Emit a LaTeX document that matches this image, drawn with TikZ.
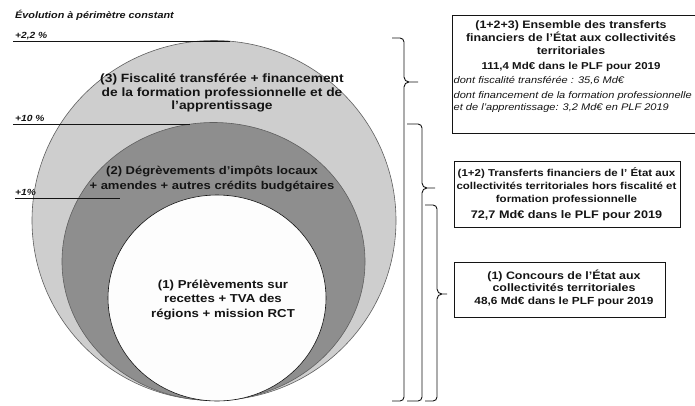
\documentclass[tikz,border=0pt]{standalone}
\usepackage{fontspec}
\setmainfont{Liberation Sans}[FakeStretch=1.15]
\usetikzlibrary{positioning}
\definecolor{ink}{RGB}{20,20,20}
\definecolor{ringout}{RGB}{206,206,206}
\definecolor{ringmid}{RGB}{142,142,142}
\definecolor{ringin}{RGB}{253,253,253}
\definecolor{edgegray}{RGB}{95,95,95}
\tikzset{
  ring/.style={draw=edgegray, line width=0.6pt},
  box/.style={draw=ink, line width=0.7pt, inner sep=0pt},
  head/.style={align=center, font=\fontsize{10.8}{13}\selectfont\bfseries, text=ink,
    inner sep=0pt},
  amt/.style={font=\fontsize{10}{13}\selectfont\bfseries, text=ink, inner sep=0pt},
  note/.style={align=left, font=\fontsize{9.6}{12}\selectfont\itshape, text=ink,
    inner sep=0pt, anchor=west},
  ctext/.style={align=center, font=\fontsize{12}{13.5}\selectfont\bfseries, text=ink,
    inner sep=0pt},
  pct/.style={font=\fontsize{8.9}{10}\selectfont\bfseries\itshape, text=ink,
    inner sep=0pt, anchor=base west},
  lvl/.style={line width=0.7pt, draw=ink},
  brc/.style={line width=0.9pt, draw=ink},
}
% curly bracket: hook x, line x, top y, tip y, tip x, bottom y
\newcommand{\curlybr}[6]{%
  \draw[brc] (#1,#3) -- (#2-4,#3) to[out=0,in=90] (#2,#3+4) -- (#2,#4-5)
    to[out=-90,in=180] (#2+5,#4) -- (#5,#4)
    (#2+5,#4) to[out=180,in=90] (#2,#4+5) -- (#2,#6-4)
    to[out=-90,in=0] (#2-4,#6) -- (#1,#6);}

\begin{document}
\begin{tikzpicture}[x=1pt, y=-1pt]
\useasboundingbox (0,0) rectangle (695,405);

% nested rings
\fill[ringout] (214,220.5) ellipse [x radius=182, y radius=180];
\draw[ring] (214,220.5) ellipse [x radius=182, y radius=180];
\fill[ringmid] (213.5,261.5) ellipse [x radius=151.5, y radius=139];
\draw[ring] (213.5,261.5) ellipse [x radius=151.5, y radius=139];
\fill[ringin] (217,298) ellipse [x radius=109, y radius=103];
\draw[ring, draw=ink] (217,298) ellipse [x radius=109, y radius=103];

% growth levels
\node[pct, font=\fontsize{9.4}{11}\selectfont\bfseries\itshape] (ttl) at (15,18)
  {Évolution à périmètre constant};
\node[pct] (p3) at (15,38) {+2,2 \%};
\node[pct] (p2) at (15,121) {+10 \%};
\node[pct] (p1) at (15,195.5) {+1\%};
\draw[lvl] (13,41) -- (230,41);
\draw[lvl] (13,124) -- (190,124);
\draw[lvl] (15,198) -- (120,198);

\node[ctext] (c3) at (222,93) {(3) Fiscalité transférée + financement\\
  de la formation professionnelle et de\\ l'apprentissage};
\node[ctext, font=\fontsize{11.3}{15}\selectfont\bfseries] (c2) at (212,178.5)
  {(2) Dégrèvements d'impôts locaux\\ + amendes + autres crédits budgétaires};
\node[ctext, font=\fontsize{11.5}{14.5}\selectfont\bfseries] (c1) at (223,299.5)
  {(1) Prélèvements sur\\ recettes + TVA des\\ régions + mission RCT};

% brackets
\curlybr{392}{404}{38}{82}{418}{401}
\curlybr{407}{422}{124}{188}{435}{401}
\curlybr{425}{437}{205}{294}{447}{401}

% boxes
\node[box, minimum width=245pt, minimum height=118pt] (box1) at (574.5,74) {};
\node[head] (h1) at (571,37.5) {(1+2+3) Ensemble des transferts\\
  financiers de l'État aux collectivités\\ territoriales};
\node[amt, below=7pt of h1] (a1) {111,4 Md€ dans le PLF pour 2019};
\node[note] (n1) at (453.5,80.5) {dont fiscalité transférée : 35,6 Md€};
\node[note] (n2) at (453.5,102) {dont financement de la formation professionnelle\\
  et de l'apprentissage: 3,2 Md€ en PLF 2019};

\node[box, minimum width=226pt, minimum height=66pt] (box2) at (567,194.5) {};
\node[head, font=\fontsize{10}{13.3}\selectfont\bfseries] (h2) at (566.5,186)
  {(1+2) Transferts financiers de l' État aux\\
  collectivités territoriales hors fiscalité et\\ formation professionnelle};
\node[amt, font=\fontsize{11}{13}\selectfont\bfseries, below=5pt of h2] (a2)
  {72,7 Md€ dans le PLF pour 2019};

\node[box, minimum width=211pt, minimum height=55pt] (box3) at (559.5,289.5) {};
\node[head, font=\fontsize{10.8}{12}\selectfont\bfseries] (h3) at (564,281)
  {(1) Concours de l'État aux\\ collectivités territoriales};
\node[amt, font=\fontsize{10.3}{13}\selectfont\bfseries, below=5pt of h3] (a3)
  {48,6 Md€ dans le PLF pour 2019};
\end{tikzpicture}
\end{document}
